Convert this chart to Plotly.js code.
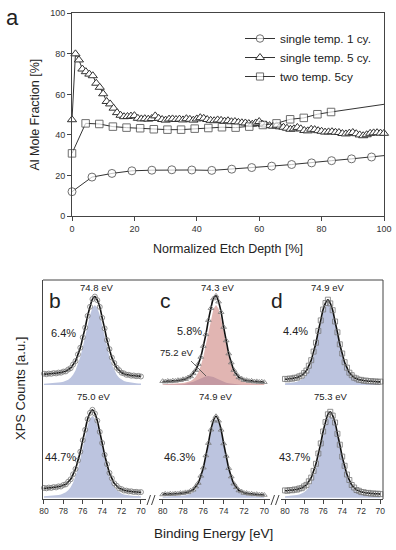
<!DOCTYPE html>
<html><head><meta charset="utf-8">
<script src="https://cdn.plot.ly/plotly-3.0.1.min.js"></script>
<style>html,body{margin:0;padding:0;background:#fff}#chart{width:396px;height:550px}</style>
</head><body><div id="chart"></div>
<script>
// ---------- panel a : Al mole fraction vs depth ----------
const seriesNames = ["single temp. 1 cy.", "single temp. 5 cy.", "two temp. 5cy"];
const depthOne = [0,6.4,12.8,19.2,25.6,32,38.4,44.8,51.2,57.6,64,70.4,76.8,83.2,89.6,96,100];
const fracOne  = [12.0,19.2,21.0,22.3,22.6,22.8,22.7,22.5,23.1,23.9,24.6,25.4,26.2,27.3,28.2,29.1,29.8];
const depthFive = [0,1.11,2.22,3.33,4.44,5.56,6.67,7.78,8.89,10,11.11,12.22,13.33,14.44,15.56,16.67,17.78,18.89,20,21.11,22.22,23.33,24.44,25.56,26.67,27.78,28.89,30,31.11,32.22,33.33,34.44,35.56,36.67,37.78,38.89,40,41.11,42.22,43.33,44.44,45.56,46.67,47.78,48.89,50,51.11,52.22,53.33,54.44,55.56,56.67,57.78,58.89,60,61.11,62.22,63.33,64.44,65.56,66.67,67.78,68.89,70,71.11,72.22,73.33,74.44,75.56,76.67,77.78,78.89,80,81.11,82.22,83.33,84.44,85.56,86.67,87.78,88.89,90,91.11,92.22,93.33,94.44,95.56,96.67,97.78,98.89,100];
const fracFive = [47.5,80.0,77.0,72.5,71.2,70.0,69.2,65.5,63.5,60.3,
  56.5,55.3,53.2,51.0,49.7,49.0,49.1,49.3,49.5,48.2,
  47.9,48.0,47.8,48.1,49.4,48.2,47.6,47.3,47.8,47.9,
  47.6,47.8,47.4,48.0,47.7,47.3,47.9,48.5,48.2,47.6,
  47.2,47.0,47.4,47.2,46.8,47.0,46.5,46.6,46.2,46.0,
  45.9,45.6,45.3,45.9,46.6,45.2,44.9,44.6,44.3,44.5,
  44.0,43.8,43.3,42.8,43.0,43.7,43.0,42.2,42.0,42.8,
  42.6,42.1,41.8,41.4,41.5,41.6,41.3,41.2,40.7,40.5,
  40.9,41.2,40.6,40.0,39.6,40.1,40.8,41.0,41.1,40.9,
  40.8];
const depthTwo = [0,4.37,8.74,13.11,17.48,21.85,26.22,30.59,34.96,39.33,43.7,48.07,52.44,56.81,61.18,65.55,69.92,74.29,78.66,83.03,100];
const fracTwo  = [30.9,45.7,45.4,44.1,43.6,43.3,42.8,42.6,42.6,43.1,43.4,43.8,43.6,44.1,44.9,45.7,47.7,48.4,50.2,51.3,55.1];
const depthTicks = [0,20,40,60,80,100];
const fracTicks = [0,20,40,60,80,100];

// ---------- panels b-d : XPS Al 2p spectra (a.u.) ----------
const energy = [80,79.75,79.5,79.25,79,78.75,78.5,78.25,78,77.75,77.5,77.25,77,76.75,76.5,76.25,76,75.75,75.5,75.25,75,74.75,74.5,74.25,74,73.75,73.5,73.25,73,72.75,72.5,72.25,72,71.75,71.5,71.25,71,70.75,70.5,70.25,70];
const energyTicks = [80,78,76,74,72,70];
// b (single temp. 1 cy.)
const bTopCounts = [11.3,10.8,11.4,11.2,11.9,11.6,12.4,12.3,13.4,13.6,15.5,16.8,20.4,23.9,30.6,37.3,47.6,57.4,69.1,78.2,85.9,88.4,84.8,78.1,67.2,56.6,44.9,35.9,27.4,22.0,17.2,14.8,12.3,11.6,10.2,10.2,9.3,9.5,8.8,9.1,8.5];
const bTopFit = [1.19,1.30,1.44,1.59,1.77,2.02,2.30,2.69,3.22,4.05,5.31,7.26,10.22,14.52,20.50,28.33,37.91,48.78,59.98,70.10,77.34,80,77.34,70.10,59.98,48.78,37.91,28.33,20.50,14.52,10.22,7.26,5.31,4.05,3.22,2.69,2.30,2.02,1.77,1.59,1.44];
const bBotCounts = [9.8,9.4,10.1,9.8,10.6,10.3,11.3,11.2,12.7,13.3,16.0,18.4,23.4,28.7,37.2,46.0,57.5,67.9,78.6,84.9,87.9,84.1,77.0,65.8,54.7,42.9,33.5,24.8,19.3,14.3,11.9,9.3,8.6,7.2,7.1,6.3,6.4,5.7,5.9,5.4,5.6];
const bBotFit = [1.34,1.48,1.63,1.81,2.07,2.35,2.76,3.30,4.15,5.44,7.45,10.47,14.88,21.01,29.04,38.86,50.00,61.48,71.85,79.28,82,79.28,71.85,61.48,50.00,38.86,29.04,21.01,14.88,10.47,7.45,5.44,4.15,3.30,2.76,2.35,2.07,1.81,1.63,1.48,1.34];
// c (single temp. 5 cy.)
const cTopCounts = [3.8,3.3,4.0,3.6,4.3,4.0,4.8,4.7,5.7,5.9,7.5,8.6,11.6,14.8,20.9,28.0,38.9,50.6,64.8,76.8,86.5,89.1,83.3,72.8,57.9,44.5,31.4,22.4,14.9,11.0,7.6,6.5,4.9,4.8,3.9,4.1,3.3,3.6,3.0,3.3,2.8];
const cTopFitMain = [0.84,0.92,1.02,1.13,1.26,1.41,1.59,1.82,2.12,2.51,3.10,4.05,5.63,8.30,12.61,19.15,28.33,40.00,53.28,66.29,76.22,80,76.22,66.29,53.28,40.00,28.33,19.15,12.61,8.30,5.63,4.05,3.10,2.51,2.12,1.82,1.59,1.41,1.26,1.13,1.02];
const cTopFitMinor = [0.18,0.20,0.23,0.26,0.30,0.36,0.46,0.60,0.82,1.15,1.63,2.31,3.19,4.27,5.49,6.75,7.89,8.70,9.00,8.70,7.89,6.75,5.49,4.27,3.19,2.31,1.63,1.15,0.82,0.60,0.46,0.36,0.30,0.26,0.23,0.20,0.18,0.16,0.14,0.13,0.12];
const cBotCounts = [3.2,3.8,3.4,3.9,3.6,4.2,3.9,4.6,4.5,5.3,5.4,6.9,7.9,11.1,14.7,21.8,30.0,42.2,54.6,68.0,77.0,81.4,76.9,67.8,54.2,41.7,29.5,21.1,14.0,10.4,7.2,6.2,4.7,4.6,3.8,3.9,3.3,3.5,2.9,3.2,2.7];
const cBotFit = [0.83,0.91,1.00,1.11,1.24,1.39,1.57,1.79,2.09,2.48,3.06,4.00,5.56,8.20,12.45,18.91,27.97,39.50,52.61,65.46,75.26,79,75.26,65.46,52.61,39.50,27.97,18.91,12.45,8.20,5.56,4.00,3.06,2.48,2.09,1.79,1.57,1.39,1.24,1.11,1.00];
// d (two temp. 5cy)
const dTopCounts = [6.1,5.7,6.5,6.3,7.2,7.3,8.6,9.4,11.9,14.4,19.3,24.8,33.4,42.3,54.1,64.6,75.5,82.0,85.3,81.6,74.8,63.5,52.7,40.7,31.5,22.8,17.3,12.3,9.8,7.3,6.5,5.2,5.1,4.2,4.4,3.7,3.9,3.4,3.6,3.1,3.4];
const dTopFit = [1.63,1.81,2.07,2.35,2.76,3.30,4.15,5.44,7.45,10.47,14.88,21.01,29.04,38.86,50.00,61.48,71.85,79.28,82,79.28,71.85,61.48,50.00,38.86,29.04,21.01,14.88,10.47,7.45,5.44,4.15,3.30,2.76,2.35,2.07,1.81,1.63,1.48,1.34,1.22,1.12];
const dBotCounts = [7.3,6.9,7.7,7.4,8.2,8.1,9.2,9.5,11.3,12.8,16.4,20.1,26.8,33.9,44.2,54.3,66.2,75.6,83.4,85.9,82.1,75.2,63.9,53.0,41.1,31.9,23.2,17.7,12.7,10.2,7.7,6.9,5.6,5.5,4.6,4.8,4.1,4.3,3.8,4.0,3.6];
const dBotFit = [1.48,1.63,1.81,2.07,2.35,2.76,3.30,4.15,5.44,7.45,10.47,14.88,21.01,29.04,38.86,50.00,61.48,71.85,79.28,82,79.28,71.85,61.48,50.00,38.86,29.04,21.01,14.88,10.47,7.45,5.44,4.15,3.30,2.76,2.35,2.07,1.81,1.63,1.48,1.34,1.22];

const peakLabels = ["74.8 eV","74.3 eV","74.9 eV","75.0 eV","74.9 eV","75.3 eV"];
const pctLabels = ["6.4%","5.8%","4.4%","44.7%","46.3%","43.7%"];
const minorLabel = "75.2 eV";
const panelLetters = ["a","b","c","d"];

// ---------- layout helpers ----------
const W = 396, H = 550;
const PX = v => v / W, PY = v => 1 - v / H;
const FONT = "Liberation Sans, Arial, Helvetica, sans-serif";
const TOP = 114, BOT = 1.3;   // vertical offsets of the stacked spectra
const BLUE = "#bcc4df", PINK = "rgba(200,120,115,0.55)", MINOR = "rgba(125,130,185,0.5)";

function sizes(arr, s) { return arr.map((v, i) => i === arr.length - 1 ? 0 : s); }

const traces = [];
traces.push({x: depthOne, y: fracOne, name: seriesNames[0], mode: "lines+markers", cliponaxis: false,
  line: {color: "#333", width: 1}, marker: {symbol: "circle", size: sizes(fracOne, 8), color: "#fff", line: {color: "#333", width: 1}}});
traces.push({x: depthFive, y: fracFive, name: seriesNames[1], mode: "lines+markers", cliponaxis: false,
  line: {color: "#333", width: 1}, marker: {symbol: "triangle-up", size: 8, color: "#fff", line: {color: "#333", width: 1}}});
traces.push({x: depthTwo, y: fracTwo, name: seriesNames[2], mode: "lines+markers", cliponaxis: false,
  line: {color: "#333", width: 1}, marker: {symbol: "square", size: sizes(fracTwo, 7.5), color: "#fff", line: {color: "#333", width: 1}}});

function fill(xa, comp, base, color) {
  return {x: energy.concat(energy.slice().reverse()),
          y: comp.map(v => v + base).concat(energy.map(() => base)),
          mode: "lines", fill: "toself", fillcolor: color, line: {width: 0, color: color},
          xaxis: xa, yaxis: "y2", showlegend: false, hoverinfo: "skip"};
}
function spec(xa, counts, base, sym) {
  return {x: energy, y: counts.map(v => v + base), mode: "lines+markers", cliponaxis: false,
          line: {color: "#111", width: 1.6, shape: "spline"},
          marker: {symbol: sym, size: 5, color: "#777", line: {color: "#777", width: 0.8}},
          xaxis: xa, yaxis: "y2", showlegend: false};
}
traces.push(fill("x2", bTopFit, TOP, BLUE), fill("x2", bBotFit, BOT, BLUE));
traces.push(fill("x3", cTopFitMinor, TOP, MINOR), fill("x3", cTopFitMain, TOP, PINK), fill("x3", cBotFit, BOT, BLUE));
traces.push(fill("x4", dTopFit, TOP, BLUE), fill("x4", dBotFit, BOT, BLUE));
traces.push(spec("x2", bTopCounts, TOP, "circle-open"), spec("x2", bBotCounts, BOT, "circle-open"));
traces.push(spec("x3", cTopCounts, TOP, "triangle-up-open"), spec("x3", cBotCounts, BOT, "triangle-up-open"));
traces.push(spec("x4", dTopCounts, TOP, "square-open"), spec("x4", dBotCounts, BOT, "square-open"));

const axCol = "#444";
function xps(domain, range) {
  return {domain, range, anchor: "y2", showline: true, linecolor: axCol, linewidth: 1,
          ticks: "outside", ticklen: 4, tickcolor: axCol, tickvals: energyTicks,
          tickfont: {size: 8.5, color: "#333"}, showgrid: false, zeroline: false};
}

const ann = [];
function txt(text, x, y, size, extra) {
  ann.push(Object.assign({text, x: PX(x), y: PY(y), xref: "paper", yref: "paper", showarrow: false,
    xanchor: "center", yanchor: "middle", font: {size, color: "#222", family: FONT}}, extra || {}));
}
txt(panelLetters[0], 12, 18, 22);
txt(panelLetters[1], 55, 300, 21);
txt(panelLetters[2], 165, 300, 21);
txt(panelLetters[3], 277, 300, 21);
[[96,287],[217,287],[327,287],[93,396],[215,396],[330,396]].forEach((p, i) => txt(peakLabels[i], p[0], p[1], 9.5));
[[63,333],[189,331],[295,331],[60,457],[179,457],[294,457]].forEach((p, i) => txt(pctLabels[i], p[0], p[1], 11));
txt(minorLabel, 176, 352, 9.5);
txt("Binding Energy [eV]", 213, 533, 13.5);
txt("XPS Counts [a.u.]", 20, 389, 13, {textangle: -90});

const shapes = [];
function seg(x0, y0, x1, y1, w) {
  shapes.push({type: "line", xref: "paper", yref: "paper", x0: PX(x0), y0: PY(y0), x1: PX(x1), y1: PY(y1),
               line: {color: axCol, width: w || 1}});
}
seg(43, 280, 383, 280);      // top frame
seg(383, 280, 383, 499);     // right frame
seg(191, 361, 206, 376, 0.8); // pointer to 75.2 eV component
[150, 274].forEach(b => { seg(b - 3, 505, b + 0.5, 495); seg(b + 1.5, 505, b + 5, 495); });

const layout = {
  width: W, height: H, margin: {l: 0, r: 0, t: 0, b: 0},
  paper_bgcolor: "#fff", plot_bgcolor: "rgba(0,0,0,0)",
  font: {family: FONT, color: "#222"},
  showlegend: true,
  legend: {x: PX(240), y: PY(24), xanchor: "left", yanchor: "top", bgcolor: "rgba(0,0,0,0)",
           font: {size: 11.8, color: "#222"}, tracegroupgap: 0},
  xaxis: {domain: [PX(72), PX(384)], range: [0, 100], anchor: "y", showline: true, mirror: true,
          linecolor: axCol, linewidth: 1, ticks: "outside", ticklen: 4, tickcolor: axCol, tickvals: depthTicks,
          tickfont: {size: 9, color: "#333"}, showgrid: false, zeroline: false,
          title: {text: "Normalized Etch Depth [%]", font: {size: 12.5, color: "#222"}, standoff: 11}},
  yaxis: {domain: [PY(216), PY(13.3)], range: [0, 100], anchor: "x", showline: true, mirror: true,
          linecolor: axCol, linewidth: 1, ticks: "outside", ticklen: 4, tickcolor: axCol, tickvals: fracTicks,
          tickfont: {size: 9, color: "#333"}, showgrid: false, zeroline: false,
          title: {text: "Al Mole Fraction [%]", font: {size: 12.5, color: "#222"}, standoff: 7}},
  xaxis2: xps([PX(43), PX(146)], [80.1, 69.48]),
  xaxis3: xps([PX(159), PX(270)], [80.36, 69.44]),
  xaxis4: xps([PX(281), PX(383)], [80.42, 69.72]),
  yaxis2: {domain: [PY(499), PY(280)], range: [0, 219], anchor: "x2", showline: true, linecolor: axCol,
           linewidth: 1, showticklabels: false, ticks: "", showgrid: false, zeroline: false},
  annotations: ann, shapes: shapes
};
Plotly.newPlot("chart", traces, layout, {staticPlot: true, displayModeBar: false});
</script></body></html>
